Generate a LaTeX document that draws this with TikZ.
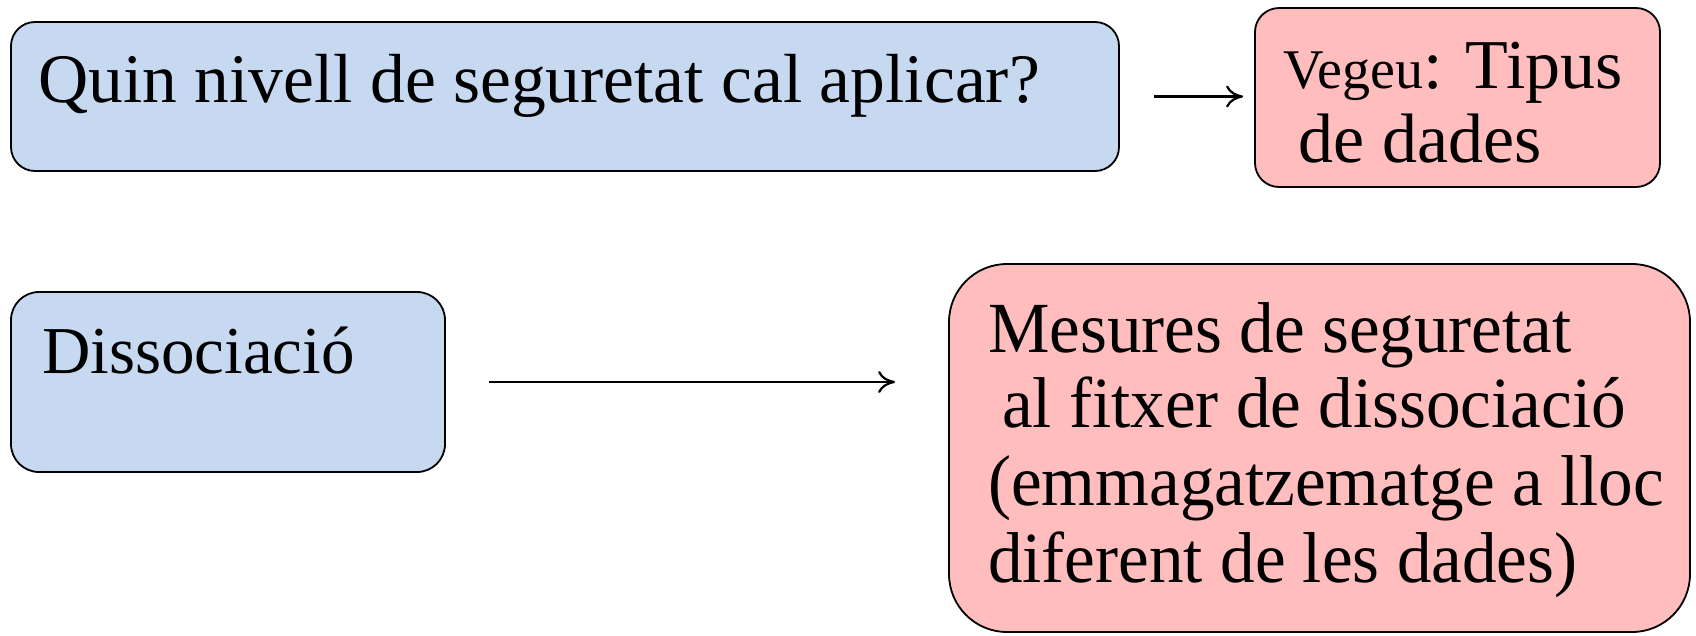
\documentclass[tikz,border=0pt]{standalone}
\usepackage{fontspec}
\setmainfont{Liberation Serif}
\usetikzlibrary{arrows.meta}
\definecolor{boxblue}{HTML}{C6D9F0}
\definecolor{boxpink}{HTML}{FFBDBD}
\tikzset{
  bluebox/.style={draw=black, line width=1.8pt, fill=boxblue, inner sep=0pt},
  pinkbox/.style={draw=black, line width=1.8pt, fill=boxpink, inner sep=0pt},
  txt/.style={anchor=base west, inner sep=0pt, text=black},
  mtxt/.style={txt, font=\fontsize{72}{76}\selectfont, xscale=0.96},
  conn/.style={draw=black, line width=2.2pt, -{To[length=17pt,width=22pt,line width=2.2pt]}},
}
\begin{document}
\begin{tikzpicture}[x=1pt,y=-1pt]
\useasboundingbox (0,0) rectangle (1696,635);
% boxes
\node[bluebox, rounded corners=24pt, minimum width=1108pt, minimum height=149pt] (q) at (565,96.5) {};
\node[pinkbox, rounded corners=24pt, minimum width=405pt, minimum height=179pt] (v) at (1457.5,97.5) {};
\node[bluebox, rounded corners=28pt, minimum width=434pt, minimum height=180pt] (d) at (228,382) {};
\node[pinkbox, rounded corners=58pt, minimum width=741pt, minimum height=368pt] (m) at (1319.5,448) {};
% texts
\node[txt, font=\fontsize{69.5}{76}\selectfont] (tq) at (38,102) {Quin nivell de seguretat cal aplicar?};
\node[txt] (tv1) at (1283,88) {\fontsize{56}{60}\selectfont Vegeu\fontsize{70}{74}\selectfont: Tipus};
\node[txt, font=\fontsize{70}{74}\selectfont] (tv2) at (1283,162) {\hspace*{0.22em}de dades};
\node[txt, font=\fontsize{67}{74}\selectfont] (td) at (42,373) {Dissociació};
\node[mtxt] (tm1) at (988,352) {Mesures de seguretat};
\node[mtxt] (tm2) at (988,427) {\hspace*{0.2em}al fitxer de dissociació};
\node[mtxt] (tm3) at (988,505) {(emmagatzematge a lloc};
\node[mtxt] (tm4) at (988,582) {diferent de les dades)};
% connectors
\draw[conn, shorten <=34pt, shorten >=11pt] (q.east) -- (q.east -| v.west);
\draw[conn, shorten <=43pt, shorten >=53pt] (d.east) -- (d.east -| m.west);
\end{tikzpicture}
\end{document}
